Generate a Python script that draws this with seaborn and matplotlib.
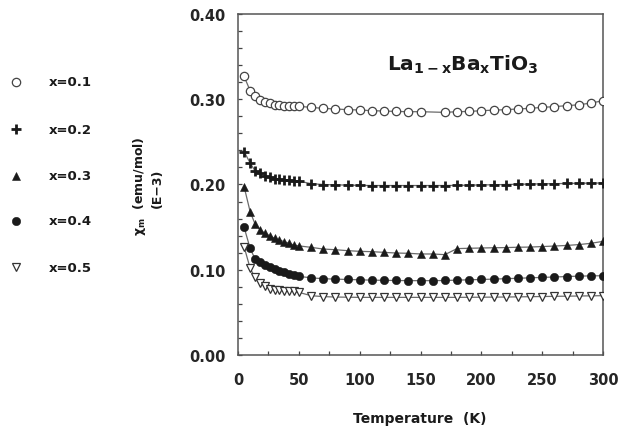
import numpy as np
import pandas as pd
import matplotlib
matplotlib.use("Agg")
import matplotlib.pyplot as plt
from matplotlib.lines import Line2D
from matplotlib.ticker import MultipleLocator
import seaborn as sns

# Temperatures (K) at which susceptibility was measured
temp_low = [5, 10, 14, 18, 22, 26, 30, 34, 38, 42, 46, 50]
temp_high = [60, 70, 80, 90, 100, 110, 120, 130, 140, 150, 160, 170,
             180, 190, 200, 210, 220, 230, 240, 250, 260, 270, 280, 290, 300]
temperature = temp_low + temp_high
# x = 0.1 has no point at 160 K
temperature_x01 = [t for t in temperature if t != 160]

compositions = ["x=0.1", "x=0.2", "x=0.3", "x=0.4", "x=0.5"]

# Molar susceptibility (emu/mol, units of 1E-3)
chi_x01 = [0.3268, 0.3100, 0.3033, 0.2995, 0.2971, 0.2952, 0.2936, 0.2928, 0.2925, 0.2922, 0.2920, 0.2917,
           0.2905, 0.2893, 0.2886, 0.2878, 0.2874, 0.2866, 0.2862, 0.2857, 0.2854, 0.2854, 0.2846,
           0.2854, 0.2857, 0.2866, 0.2872, 0.2878, 0.2886, 0.2893, 0.2905, 0.2913, 0.2925, 0.2935, 0.2955, 0.2983]
chi_x02 = [0.2385, 0.2252, 0.2160, 0.2130, 0.2104, 0.2084, 0.2070, 0.2060, 0.2055, 0.2050, 0.2045, 0.2040,
           0.2010, 0.2000, 0.1996, 0.1993, 0.1990, 0.1988, 0.1988, 0.1988, 0.1988, 0.1988, 0.1988, 0.1988,
           0.1990, 0.1992, 0.1995, 0.1997, 0.2000, 0.2003, 0.2005, 0.2008, 0.2010, 0.2012, 0.2015, 0.2016, 0.2018]
chi_x03 = [0.1975, 0.1680, 0.1537, 0.1470, 0.1430, 0.1400, 0.1370, 0.1349, 0.1330, 0.1310, 0.1290, 0.1280,
           0.1263, 0.1243, 0.1235, 0.1224, 0.1216, 0.1212, 0.1204, 0.1196, 0.1193, 0.1185, 0.1185, 0.1177,
           0.1248, 0.1252, 0.1255, 0.1258, 0.1260, 0.1264, 0.1266, 0.1272, 0.1278, 0.1285, 0.1295, 0.1310, 0.1333]
chi_x04 = [0.1498, 0.1250, 0.1126, 0.1087, 0.1056, 0.1028, 0.1009, 0.0989, 0.0970, 0.0950, 0.0938, 0.0923,
           0.0905, 0.0895, 0.0890, 0.0886, 0.0882, 0.0878, 0.0876, 0.0874, 0.0872, 0.0872, 0.0872, 0.0874,
           0.0878, 0.0882, 0.0886, 0.0890, 0.0895, 0.0900, 0.0905, 0.0910, 0.0915, 0.0920, 0.0925, 0.0928, 0.0930]
chi_x05 = [0.1270, 0.1017, 0.0910, 0.0845, 0.0810, 0.0780, 0.0766, 0.0758, 0.0755, 0.0751, 0.0745, 0.0735,
           0.0696, 0.0685, 0.0680, 0.0678, 0.0676, 0.0676, 0.0676, 0.0676, 0.0676, 0.0676, 0.0676, 0.0676,
           0.0676, 0.0677, 0.0678, 0.0679, 0.0680, 0.0682, 0.0684, 0.0686, 0.0688, 0.0690, 0.0692, 0.0694, 0.0696]

frames = []
for label, temps, chi in zip(compositions,
                             [temperature_x01, temperature, temperature, temperature, temperature],
                             [chi_x01, chi_x02, chi_x03, chi_x04, chi_x05]):
    frames.append(pd.DataFrame({"T": temps, "chi": chi, "comp": label}))
df = pd.concat(frames, ignore_index=True)

sns.set_style("ticks")
plt.rcParams["font.family"] = ["DejaVu Sans"]
plt.rcParams["font.weight"] = "bold"
plt.rcParams["mathtext.default"] = "regular"

W, H = 618, 427
fig = plt.figure(figsize=(W / 100, H / 100), dpi=100)
ax = fig.add_axes([238 / W, 1 - 356 / H, (603 - 238) / W, (356 - 15) / H])

ink = "#1a1a1a"
line_col = "#6a6a6a"
styles = {
    "x=0.1": dict(marker="o", mfc="white", mec="#444444", ms=6.0, mew=0.9),
    "x=0.2": dict(marker="+", mfc=ink, mec=ink, ms=7.0, mew=2.0),
    "x=0.3": dict(marker="^", mfc=ink, mec=ink, ms=5.8, mew=0.4),
    "x=0.4": dict(marker="o", mfc=ink, mec=ink, ms=6.0, mew=0.4),
    "x=0.5": dict(marker="v", mfc="white", mec="#333333", ms=5.8, mew=0.9),
}

for comp in compositions:
    sub = df[df["comp"] == comp]
    st = styles[comp]
    sns.lineplot(data=sub, x="T", y="chi", ax=ax, color=line_col, lw=0.9,
                 marker=st["marker"], markersize=st["ms"], markerfacecolor=st["mfc"],
                 markeredgecolor=st["mec"], markeredgewidth=st["mew"],
                 legend=False, zorder=3)

ax.set_xlim(0, 300)
ax.set_ylim(0, 0.40)
ax.xaxis.set_major_locator(MultipleLocator(50))
ax.xaxis.set_minor_locator(MultipleLocator(25))
ax.yaxis.set_major_locator(MultipleLocator(0.10))
ax.yaxis.set_minor_locator(MultipleLocator(0.02))
ax.yaxis.set_major_formatter(plt.FormatStrFormatter("%.2f"))
ax.tick_params(which="both", direction="in", length=3, width=0.9, color="#444444")
ax.tick_params(axis="y", which="major", pad=9, labelsize=10.5)
ax.tick_params(axis="x", which="major", pad=12, labelsize=10.5)
ax.tick_params(which="both", right=False, top=False)
for lab in ax.get_xticklabels() + ax.get_yticklabels():
    lab.set_fontweight("bold")
for sp in ax.spines.values():
    sp.set_visible(True)
    sp.set_color("#555555")
    sp.set_linewidth(1.1)
ax.set_xlabel("")
ax.set_ylabel("")

# Compound formula inside the plot
ax.text(387 / W, 1 - 65 / H, r"La$_{1-x}$Ba$_x$TiO$_3$", transform=fig.transFigure,
        fontsize=14.5, fontweight="bold", ha="left", va="center", color=ink)

# Axis titles
fig.text(420 / W, 1 - 419 / H, "Temperature  (K)", ha="center", va="center",
         fontsize=10, fontweight="bold", color=ink)
fig.text(140 / W, 1 - 236 / H, r"χ$_m$  (emu/mol)", rotation=90, rotation_mode="anchor",
         ha="left", va="center", fontsize=9, fontweight="bold", color=ink)
fig.text(157 / W, 1 - 208 / H, "(E\u22123)", rotation=90, rotation_mode="anchor",
         ha="left", va="center", fontsize=9, fontweight="bold", color=ink)

# Composition key on the left
key_y = [83, 130, 177, 222, 268]
for comp, yk in zip(compositions, key_y):
    st = styles[comp]
    fig.add_artist(Line2D([16 / W], [1 - yk / H], transform=fig.transFigure, linestyle="none",
                          marker=st["marker"], markersize=st["ms"], markerfacecolor=st["mfc"],
                          markeredgecolor=st["mec"], markeredgewidth=st["mew"]))
    fig.text(49 / W, 1 - yk / H, comp, ha="left", va="center", fontsize=9.5,
             fontweight="bold", color=ink)

fig.savefig("out.png", dpi=100)
